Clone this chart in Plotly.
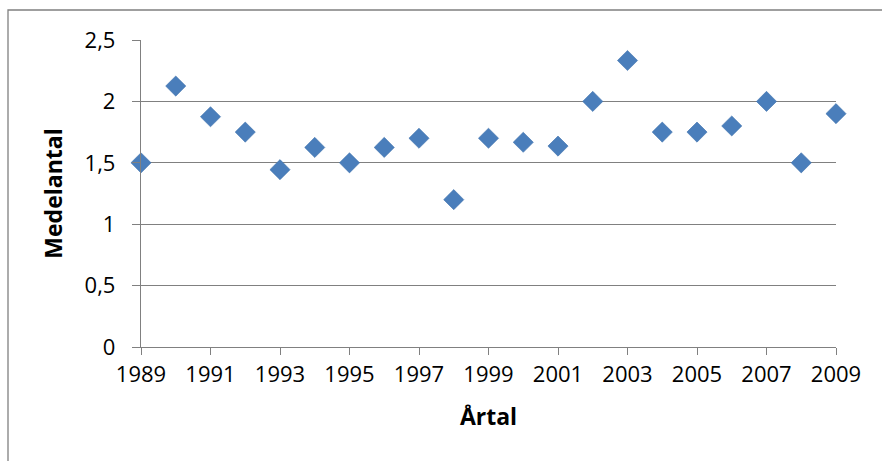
import plotly.graph_objects as go

# Average count per year
years = list(range(1989, 2010))
medelantal = [1.5, 2.125, 1.875, 1.75, 1.444, 1.625, 1.5, 1.625, 1.7, 1.2,
              1.7, 1.667, 1.636, 2.0, 2.333, 1.75, 1.75, 1.8, 2.0, 1.5, 1.9]

x_ticks = list(range(1989, 2010, 2))
y_ticks = [0, 0.5, 1, 1.5, 2, 2.5]
y_ticktext = ["0", "0,5", "1", "1,5", "2", "2,5"]

W, H = 882, 461
L, R, T, B = 141, 46, 40, 114
pw, ph = W - L - R, H - T - B

def px_to_paper_x(px):
    return (px - L) / pw

def px_to_paper_y(py):
    return (H - B - py) / ph

grey = "#808080"
font_family = "Open Sans, Noto Sans, sans-serif"

fig = go.Figure(
    go.Scatter(
        x=years,
        y=medelantal,
        mode="markers",
        marker=dict(symbol="diamond", size=15.5, color="#4a7ebb",
                    line=dict(width=0.6, color="#3f72ad")),
        cliponaxis=False,
        hoverinfo="x+y",
    )
)

fig.update_layout(
    width=W,
    height=H,
    margin=dict(l=L, r=R, t=T, b=B),
    paper_bgcolor="white",
    plot_bgcolor="white",
    showlegend=False,
    font=dict(family=font_family, size=22, color="black"),
    xaxis=dict(
        range=[1989, 2009],
        tickvals=x_ticks,
        ticktext=[str(v) for v in x_ticks],
        ticks="outside",
        ticklen=7,
        tickwidth=1.3,
        tickcolor=grey,
        showline=True,
        linecolor=grey,
        linewidth=1.3,
        showgrid=False,
        zeroline=False,
        tickfont=dict(size=22),
        title=dict(text="<b>Årtal</b>", font=dict(size=23), standoff=22),
    ),
    yaxis=dict(
        range=[0, 2.5],
        tickvals=y_ticks,
        ticktext=y_ticktext,
        ticks="outside",
        ticklen=8,
        tickwidth=1.3,
        tickcolor=grey,
        ticklabelstandoff=12,
        showline=True,
        linecolor=grey,
        linewidth=1.3,
        showgrid=True,
        gridcolor=grey,
        gridwidth=1.3,
        zeroline=False,
        tickfont=dict(size=22),
        title=dict(text="<b>Medelantal</b>", font=dict(size=23), standoff=15),
    ),
    shapes=[
        # chart area frame (left and top edges visible)
        dict(
            type="rect",
            xref="paper", yref="paper",
            x0=px_to_paper_x(8), x1=px_to_paper_x(W + 10),
            y0=px_to_paper_y(H + 10), y1=px_to_paper_y(10),
            line=dict(color=grey, width=1.3),
            fillcolor="rgba(0,0,0,0)",
            layer="below",
        )
    ],
)

fig.write_html("out.html")
